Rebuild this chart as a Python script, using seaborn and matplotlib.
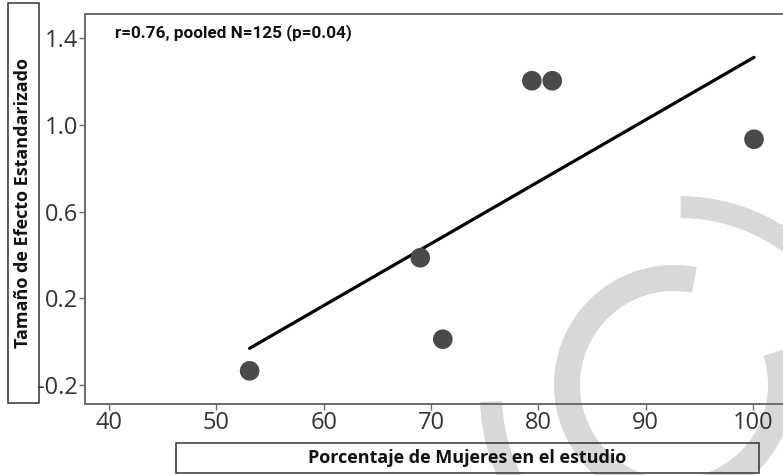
import numpy as np
import pandas as pd
import seaborn as sns
import matplotlib
matplotlib.use("Agg")
import matplotlib.pyplot as plt
from matplotlib.patches import Wedge, Rectangle

# Study-level data: percentage of women in each study vs standardized effect size
pct_women = [53.1, 69.0, 71.1, 79.4, 81.3, 100.1]
effect_size = [-0.135, 0.387, 0.011, 1.204, 1.204, 0.934]

# Endpoints of the pooled (weighted) regression line
fit_x = [53.1, 100.1]
fit_y = [-0.031, 1.312]

x_ticks = [40, 50, 60, 70, 80, 90, 100]
y_ticks = [-0.2, 0.2, 0.6, 1.0, 1.4]
y_tick_labels = ["-0.2", "0.2", "0.6", "1.0", "1.4"]

stats_text = "r=0.76, pooled N=125 (p=0.04)"
x_title = "Porcentaje de Mujeres en el estudio"
y_title = "Tamaño de Efecto Estandarizado"

sns.set_theme(style="white")
plt.rcParams["font.family"] = ["Open Sans", "DejaVu Sans"]

W, H = 783, 475
fig = plt.figure(figsize=(W / 100, H / 100), dpi=100)
fig.patch.set_facecolor("white")

# Background layer in pixel coordinates (y pointing up)
bg = fig.add_axes([0, 0, 1, 1], zorder=0)
bg.set_xlim(0, W)
bg.set_ylim(0, H)
bg.axis("off")

mark_color = "#d8d8d8"
bg.add_patch(Wedge((679, H - 395), 199, 182, 449.5, width=22,
                   facecolor=mark_color, edgecolor="none"))
bg.add_patch(Wedge((674, H - 385), 120, 79, 378, width=26,
                   facecolor=mark_color, edgecolor="none"))

# Boxed axis titles
box_color = "#333333"
bg.add_patch(Rectangle((8, H - 403), 31, 400, fill=False,
                       edgecolor=box_color, linewidth=1.1))
bg.text(23.5, H - 203, y_title, rotation=90, ha="center", va="center",
        fontsize=13, fontweight="bold", color="#111111")
bg.add_patch(Rectangle((176, H - 473), 583, 30, fill=False,
                       edgecolor=box_color, linewidth=1.1))
bg.text(467, H - 458, x_title, ha="center", va="center",
        fontsize=13, fontweight="bold", color="#111111")

# Main plotting area
ax = fig.add_axes([85 / W, (H - 404) / H, (W - 85) / W, 390 / H], zorder=1)
ax.patch.set_alpha(0)

df = pd.DataFrame({"pct": pct_women, "eff": effect_size})
fit = pd.DataFrame({"x": fit_x, "y": fit_y})

sns.lineplot(data=fit, x="x", y="y", ax=ax, color="black", linewidth=2.3,
             zorder=2)
sns.scatterplot(data=df, x="pct", y="eff", ax=ax, s=200, color="#4a4a4a",
                edgecolor="none", linewidth=0, zorder=3)

ax.set_xlim(37.76, 102.8)
ax.set_ylim(-0.288, 1.512)
ax.set_xticks(x_ticks)
ax.set_xticklabels([str(t) for t in x_ticks])
ax.set_yticks(y_ticks)
ax.set_yticklabels(y_tick_labels)
ax.set_xlabel("")
ax.set_ylabel("")

spine_color = "#6b6b6b"
for side in ["left", "bottom", "top"]:
    ax.spines[side].set_color(spine_color)
    ax.spines[side].set_linewidth(1.4)
ax.spines["right"].set_visible(False)

ax.tick_params(axis="both", which="major", direction="out", length=4,
               width=1.0, color=spine_color, labelsize=17,
               labelcolor="#333333", pad=1,
               bottom=True, left=True)

# Summary statistics, placed in figure pixels
bg.text(115, H - 33, stats_text, fontsize=12.3, fontweight="bold",
        family=["Roboto", "DejaVu Sans"], color="#111111",
        ha="left", va="center", zorder=5)

fig.savefig("out.png", dpi=100, facecolor="white")
